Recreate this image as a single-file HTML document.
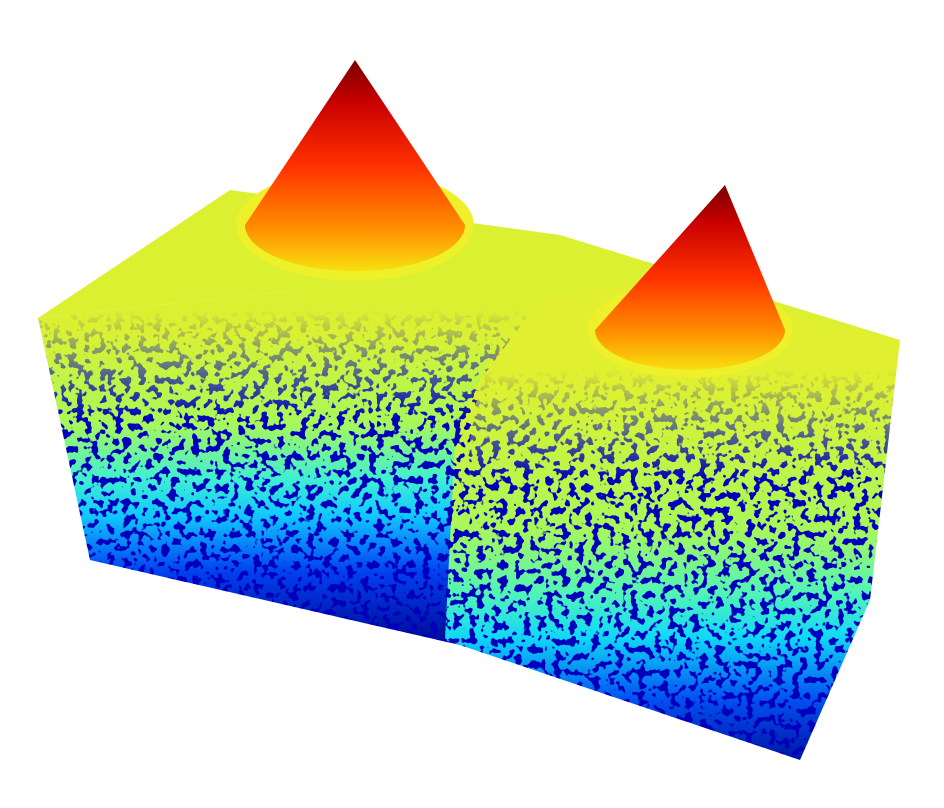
<!DOCTYPE html>
<html><head><meta charset="utf-8"><style>html,body{margin:0;background:#fff;width:944px;height:808px;overflow:hidden}</style></head>
<body>
<svg id="plot" width="944" height="808" viewBox="0 0 944 808" xmlns="http://www.w3.org/2000/svg">
<defs>
<linearGradient id="front" gradientUnits="userSpaceOnUse" x1="0" y1="330" x2="0" y2="640">
<stop offset="0" stop-color="#dcf032"/><stop offset="0.3" stop-color="#a8f858"/><stop offset="0.48" stop-color="#40f0d0"/><stop offset="0.6" stop-color="#10c8ff"/><stop offset="0.78" stop-color="#0040f0"/><stop offset="1" stop-color="#000c98"/>
</linearGradient>
<linearGradient id="front2" gradientUnits="userSpaceOnUse" x1="0" y1="380" x2="0" y2="770">
<stop offset="0" stop-color="#e0f030"/><stop offset="0.38" stop-color="#a8f858"/><stop offset="0.55" stop-color="#50f4b8"/><stop offset="0.66" stop-color="#10d8f8"/><stop offset="0.82" stop-color="#0050f0"/><stop offset="1" stop-color="#000c98"/>
</linearGradient>
<linearGradient id="cone" x1="0" y1="0" x2="0" y2="1">
<stop offset="0" stop-color="#7a0000"/><stop offset="0.2" stop-color="#c80000"/><stop offset="0.5" stop-color="#ff3000"/><stop offset="0.8" stop-color="#ff9000"/><stop offset="1" stop-color="#f8e010"/>
</linearGradient>
<linearGradient id="fadeL" gradientUnits="userSpaceOnUse" x1="0" y1="310" x2="0" y2="420">
<stop offset="0" stop-color="#000"/><stop offset="1" stop-color="#fff"/>
</linearGradient>
<linearGradient id="fadeR" gradientUnits="userSpaceOnUse" x1="0" y1="370" x2="0" y2="480">
<stop offset="0" stop-color="#000"/><stop offset="1" stop-color="#fff"/>
</linearGradient>
<mask id="mL"><rect x="0" y="0" width="944" height="808" fill="url(#fadeL)"/></mask>
<mask id="mR"><rect x="0" y="0" width="944" height="808" fill="url(#fadeR)"/></mask>
<filter id="speck" x="0" y="0" width="100%" height="100%">
<feTurbulence type="fractalNoise" baseFrequency="0.13" numOctaves="2" seed="7" result="t"/>
<feColorMatrix in="t" type="matrix" values="0 0 0 0 0  0 0 0 0 0  0 0 0 0 0.5  0 0 0 -22 10.0"/>
</filter>
<clipPath id="cL"><polygon points="38,318 300,290 545,285 540,300 480,380 470,440 460,645 90,560"/></clipPath>
<clipPath id="cR"><path d="M455,440 Q480,360 540,300 L640,280 L900,340 L870,600 L800,760 L445,640 Z"/></clipPath>
</defs>
<polygon points="38,318 230,190 560,235 900,340 640,290 540,300 300,290" fill="#dcf032"/>
<polygon points="38,318 300,290 545,285 540,300 480,380 470,440 460,645 90,560" fill="url(#front)"/>
<path d="M455,440 Q480,360 540,300 L640,280 L900,340 L870,600 L800,760 L445,640 Z" fill="url(#front2)"/>
<g clip-path="url(#cL)">
<rect x="30" y="280" width="520" height="370" filter="url(#speck)" mask="url(#mL)" fill="#000080"/>
</g>
<g clip-path="url(#cR)">
<rect x="440" y="270" width="470" height="500" filter="url(#speck)" mask="url(#mR)" fill="#000080"/>
</g>
<g id="cones"></g>
</svg>
<script>
const coneNames=['left-cone','right-cone'];
const coneBaseX=[355,690];
const coneBaseY=[225,330];
const coneApexX=[355,725];
const coneApexY=[60,185];
const coneRadius=[110,95];
const g=document.getElementById('cones');
const NS='http://www.w3.org/2000/svg';
for(let i=0;i<coneNames.length;i++){
  const cx=coneBaseX[i],cy=coneBaseY[i],r=coneRadius[i],ry=r*0.42;
  const halo=document.createElementNS(NS,'ellipse');
  
  
  halo.setAttribute('cx',cx);halo.setAttribute('cy',cy);halo.setAttribute('rx',r*1.08);halo.setAttribute('ry',ry*1.2);
  halo.setAttribute('fill','#eef02a');
  g.appendChild(halo);
  const p=document.createElementNS(NS,'path');
  
  
  p.setAttribute('d',`M${cx-r},${cy} L${coneApexX[i]},${coneApexY[i]} L${cx+r},${cy} A${r},${ry} 0 0 1 ${cx-r},${cy} Z`);
  p.setAttribute('fill','url(#cone)');
  g.appendChild(p);
}
</script>
</body></html>
